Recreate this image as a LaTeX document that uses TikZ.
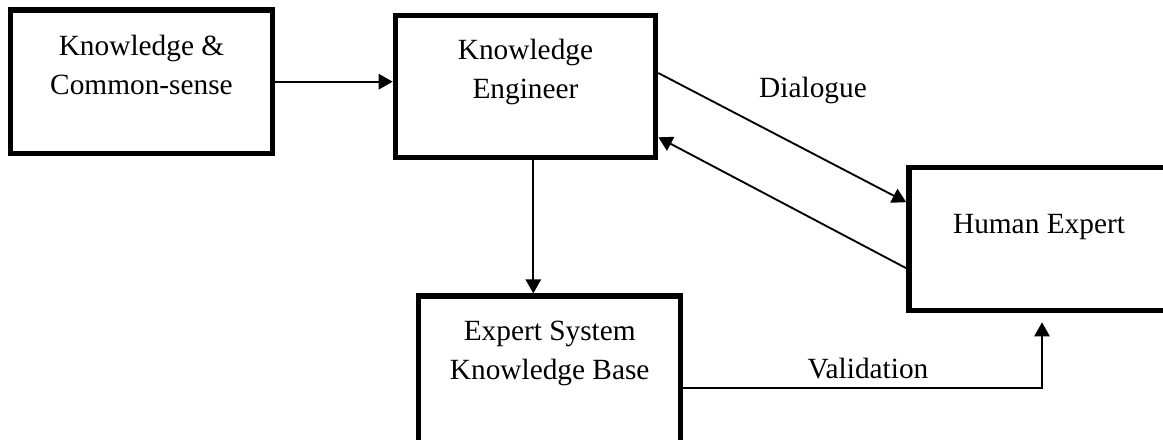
\documentclass[tikz,border=0pt]{standalone}
\usepackage{fontspec}
\setmainfont{Liberation Serif}
\usetikzlibrary{arrows.meta,calc}
\begin{document}
\begin{tikzpicture}[x=0.75pt,y=-0.75pt,
  block/.style={draw=black,line width=4pt,rectangle,inner sep=0pt},
  lbl/.style={font=\fontsize{22}{28.9}\selectfont,align=center,inner sep=0pt,anchor=base},
  flow/.style={line width=1.4pt,-{Triangle[length=10.5pt,width=11.5pt]}}]
  \useasboundingbox (0,0) rectangle (1163,439);
  \begin{scope}
  \clip (0,0) rectangle (1163,439);
  % the four blocks
  \node[block,minimum width=196.5pt,minimum height=107.5pt] (k1) at (141.5,81.7) {};
  \node[block,minimum width=195.2pt,minimum height=106.5pt] (k2) at (525.5,86.3) {};
  \node[block,minimum width=195.2pt,minimum height=107.2pt] (k3) at (1039,239.2) {};
  \node[block,minimum width=196.5pt,minimum height=111.7pt] (k4) at (549.7,370.5) {};
  \end{scope}
  % block texts (anchored on the baseline of the last line)
  \node[lbl] (t1) at ($(k1.north)+(0,86.7)$) {Knowledge \&\\Common-sense};
  \node[lbl] (t2) at ($(k2.north)+(0,85.4)$) {Knowledge\\Engineer};
  \node[lbl] (t3) at ($(k3.center)+(0,-6)$) {Human Expert};
  \node[lbl] (t4) at ($(k4.north)+(0,85.7)$) {Expert System\\Knowledge Base};
  % connector labels
  \node[lbl] (dl) at (813,97) {Dialogue};
  \node[lbl] (vl) at (868,378.3) {Validation};
  % connectors
  \draw[flow] (k1.east) -- (k1.east -| k2.west);
  \coordinate (kd) at ($(k2.south)+(7.8,0)$);
  \draw[flow] (kd) -- (kd |- k4.north);
  \draw[flow] ($(k2.east)+(0,-13.3)$) -- ($(k3.west)+(0,-37)$);
  \draw[flow] ($(k3.west)+(0,29)$) -- ($(k2.east)+(0,51)$);
  \coordinate (vt) at ($(k3.south)+(3,9)$);
  \coordinate (vs) at ($(k4.east)+(0,17.5)$);
  \draw[flow] (vs) -| (vt);
\end{tikzpicture}
\end{document}
